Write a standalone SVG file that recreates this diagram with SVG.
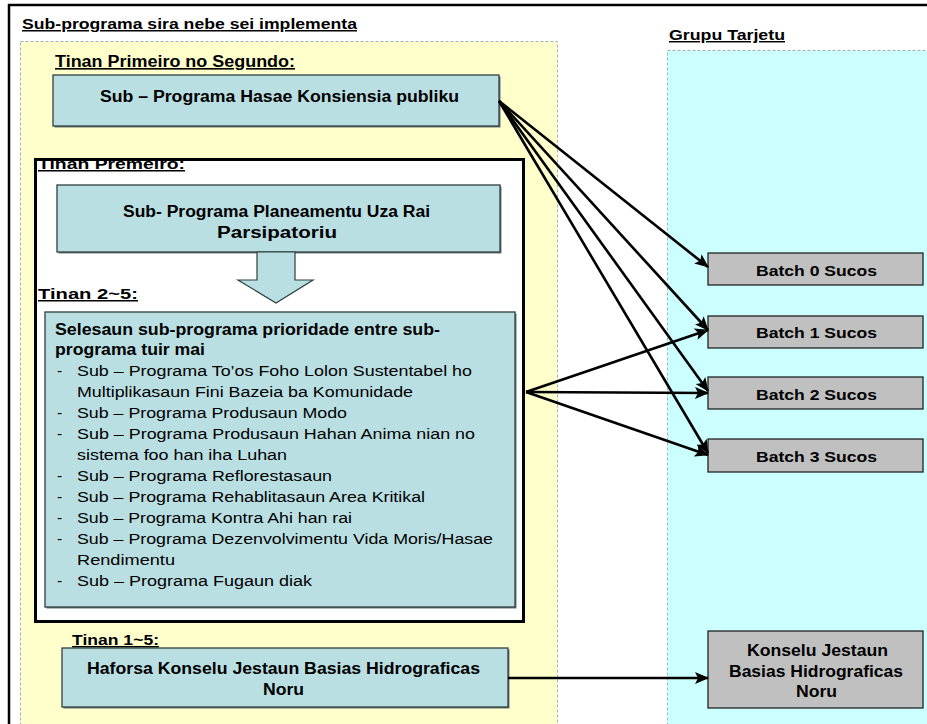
<svg xmlns="http://www.w3.org/2000/svg" width="927" height="724" viewBox="0 0 927 724">
<defs>
<marker id="ah" markerUnits="userSpaceOnUse" markerWidth="14" markerHeight="12" refX="13" refY="6" orient="auto">
<path d="M0,0 L14,6 L0,12 L3,6 Z" fill="#000"/>
</marker>
<style>
.t{font-family:"Liberation Sans",Arial,sans-serif;fill:#000}
.b{font-weight:bold}
.u{text-decoration:underline}
.box{fill:#B9DFE3;stroke:#2F3F3F;stroke-width:1.3}
.gbox{fill:#C0C0C0;stroke:#222;stroke-width:1.3}
.sh{fill:#6A7A7A}
.con{stroke:#000;stroke-width:2.6;fill:none;marker-end:url(#ah)}
</style>
</defs>
<rect width="927" height="724" fill="#fff"/>
<g id="frame">
<line x1="8" y1="5" x2="927" y2="5" stroke="#000" stroke-width="2.5"/>
<line x1="9" y1="4" x2="9" y2="724" stroke="#000" stroke-width="2.5"/>
</g>
<g id="panel-left">
<rect x="20.5" y="41.5" width="537" height="700" fill="#FFFFCC" stroke="#9FB4B8" stroke-width="1" stroke-dasharray="3,2"/>
<text class="t b u" x="22" y="29" font-size="15" textLength="335" lengthAdjust="spacingAndGlyphs">Sub-programa sira nebe sei implementa</text>
</g>
<g id="panel-right">
<rect x="667.5" y="50.5" width="280" height="700" fill="#CCFFFF" stroke="#9FB4B8" stroke-width="1" stroke-dasharray="3,2"/>
<text class="t b u" x="669" y="40" font-size="14.5" textLength="116" lengthAdjust="spacingAndGlyphs">Grupu Tarjetu</text>
</g>
<g id="n-konsiensia">
<text class="t b u" x="55" y="67" font-size="16" textLength="240" lengthAdjust="spacingAndGlyphs">Tinan Primeiro no Segundo:</text>
<rect class="sh" x="54.5" y="76.5" width="446" height="51"/>
<rect class="box" x="53" y="75" width="446" height="51"/>
<text class="t b" x="279.5" y="102" font-size="16" text-anchor="middle" textLength="359" lengthAdjust="spacingAndGlyphs">Sub – Programa Hasae Konsiensia publiku</text>
</g>
<g id="n-tinan-premeiro">
<rect x="35.5" y="159.5" width="488" height="462" fill="#fff" stroke="#000" stroke-width="3"/>
<text class="t b u" x="38" y="169" font-size="15" textLength="147" lengthAdjust="spacingAndGlyphs">Tinan Premeiro:</text>
</g>
<g id="n-planeamentu">
<rect class="sh" x="58.5" y="186.5" width="443" height="67"/>
<rect class="box" x="57" y="185" width="443" height="67"/>
<text class="t b" x="276.5" y="217" font-size="16" text-anchor="middle" textLength="307" lengthAdjust="spacingAndGlyphs">Sub- Programa Planeamentu Uza Rai</text>
<text class="t b" x="277" y="238" font-size="16" text-anchor="middle" textLength="120" lengthAdjust="spacingAndGlyphs">Parsipatoriu</text>
</g>
<g id="n-block-arrow">
<polygon points="257,252 295,252 295,280 313,280 276,303 238,280 257,280" fill="#B9DFE3" stroke="#2F3F3F" stroke-width="1.2"/>
</g>
<g id="n-selesaun">
<text class="t b u" x="38" y="299" font-size="15" textLength="100" lengthAdjust="spacingAndGlyphs">Tinan 2~5:</text>
<rect class="sh" x="46.5" y="313.5" width="470" height="295"/>
<rect class="box" x="45" y="312" width="470" height="295"/>
<text class="t b" x="55" y="335" font-size="16" textLength="385" lengthAdjust="spacingAndGlyphs">Selesaun sub-programa prioridade entre sub-</text>
<text class="t b" x="55" y="355" font-size="16" textLength="150" lengthAdjust="spacingAndGlyphs">programa tuir mai</text>
<g font-size="15.5">
<text class="t" x="57" y="376">-</text>
<text class="t" x="77" y="376" textLength="395" lengthAdjust="spacingAndGlyphs">Sub – Programa To’os Foho Lolon Sustentabel ho</text>
<text class="t" x="77" y="397" textLength="336" lengthAdjust="spacingAndGlyphs">Multiplikasaun Fini Bazeia ba Komunidade</text>
<text class="t" x="57" y="418">-</text>
<text class="t" x="77" y="418" textLength="270" lengthAdjust="spacingAndGlyphs">Sub – Programa Produsaun Modo</text>
<text class="t" x="57" y="439">-</text>
<text class="t" x="77" y="439" textLength="398" lengthAdjust="spacingAndGlyphs">Sub – Programa Produsaun Hahan Anima nian no</text>
<text class="t" x="77" y="460" textLength="210" lengthAdjust="spacingAndGlyphs">sistema foo han iha Luhan</text>
<text class="t" x="57" y="481">-</text>
<text class="t" x="77" y="481" textLength="255" lengthAdjust="spacingAndGlyphs">Sub – Programa Reflorestasaun</text>
<text class="t" x="57" y="502">-</text>
<text class="t" x="77" y="502" textLength="348" lengthAdjust="spacingAndGlyphs">Sub – Programa Rehablitasaun Area Kritikal</text>
<text class="t" x="57" y="523">-</text>
<text class="t" x="77" y="523" textLength="275" lengthAdjust="spacingAndGlyphs">Sub – Programa Kontra Ahi han rai</text>
<text class="t" x="57" y="544">-</text>
<text class="t" x="77" y="544" textLength="416" lengthAdjust="spacingAndGlyphs">Sub – Programa Dezenvolvimentu Vida Moris/Hasae</text>
<text class="t" x="77" y="565" textLength="98" lengthAdjust="spacingAndGlyphs">Rendimentu</text>
<text class="t" x="57" y="586">-</text>
<text class="t" x="77" y="586" textLength="235" lengthAdjust="spacingAndGlyphs">Sub – Programa Fugaun diak</text>
</g>
</g>
<g id="n-haforsa">
<text class="t b u" x="72" y="645" font-size="15" textLength="87" lengthAdjust="spacingAndGlyphs">Tinan 1~5:</text>
<rect class="sh" x="63.5" y="649.5" width="446" height="59"/>
<rect class="box" x="62" y="648" width="446" height="59"/>
<text class="t b" x="283.5" y="674" font-size="16" text-anchor="middle" textLength="393" lengthAdjust="spacingAndGlyphs">Haforsa Konselu Jestaun Basias Hidrograficas</text>
<text class="t b" x="283.5" y="695" font-size="16" text-anchor="middle" textLength="41" lengthAdjust="spacingAndGlyphs">Noru</text>
</g>
<g id="n-batch0">
<rect class="gbox" x="708" y="253" width="215" height="32"/>
<text class="t b" x="816.5" y="276" font-size="15.5" text-anchor="middle" textLength="121" lengthAdjust="spacingAndGlyphs">Batch 0 Sucos</text>
</g>
<g id="n-batch1">
<rect class="gbox" x="708" y="316" width="215" height="32"/>
<text class="t b" x="816.5" y="338" font-size="15.5" text-anchor="middle" textLength="121" lengthAdjust="spacingAndGlyphs">Batch 1 Sucos</text>
</g>
<g id="n-batch2">
<rect class="gbox" x="708" y="377" width="215" height="32"/>
<text class="t b" x="816.5" y="400" font-size="15.5" text-anchor="middle" textLength="121" lengthAdjust="spacingAndGlyphs">Batch 2 Sucos</text>
</g>
<g id="n-batch3">
<rect class="gbox" x="708" y="439" width="215" height="33"/>
<text class="t b" x="816.5" y="462" font-size="15.5" text-anchor="middle" textLength="121" lengthAdjust="spacingAndGlyphs">Batch 3 Sucos</text>
</g>
<g id="n-konselu">
<rect class="gbox" x="708" y="631" width="215" height="77"/>
<text class="t b" x="817.5" y="656" font-size="16" text-anchor="middle" textLength="141" lengthAdjust="spacingAndGlyphs">Konselu Jestaun</text>
<text class="t b" x="816" y="677" font-size="16" text-anchor="middle" textLength="174" lengthAdjust="spacingAndGlyphs">Basias Hidrograficas</text>
<text class="t b" x="816.5" y="697" font-size="16" text-anchor="middle" textLength="41" lengthAdjust="spacingAndGlyphs">Noru</text>
</g>
<g id="connectors">
<line class="con" x1="499" y1="101" x2="708" y2="267"/>
<line class="con" x1="499" y1="101" x2="708" y2="330"/>
<line class="con" x1="499" y1="101" x2="708" y2="391"/>
<line class="con" x1="499" y1="101" x2="708" y2="453"/>
<line class="con" x1="526" y1="392" x2="708" y2="330"/>
<line class="con" x1="526" y1="392" x2="708" y2="393"/>
<line class="con" x1="526" y1="392" x2="708" y2="455"/>
<line class="con" x1="508" y1="678" x2="708" y2="678"/>
</g>
</svg>
